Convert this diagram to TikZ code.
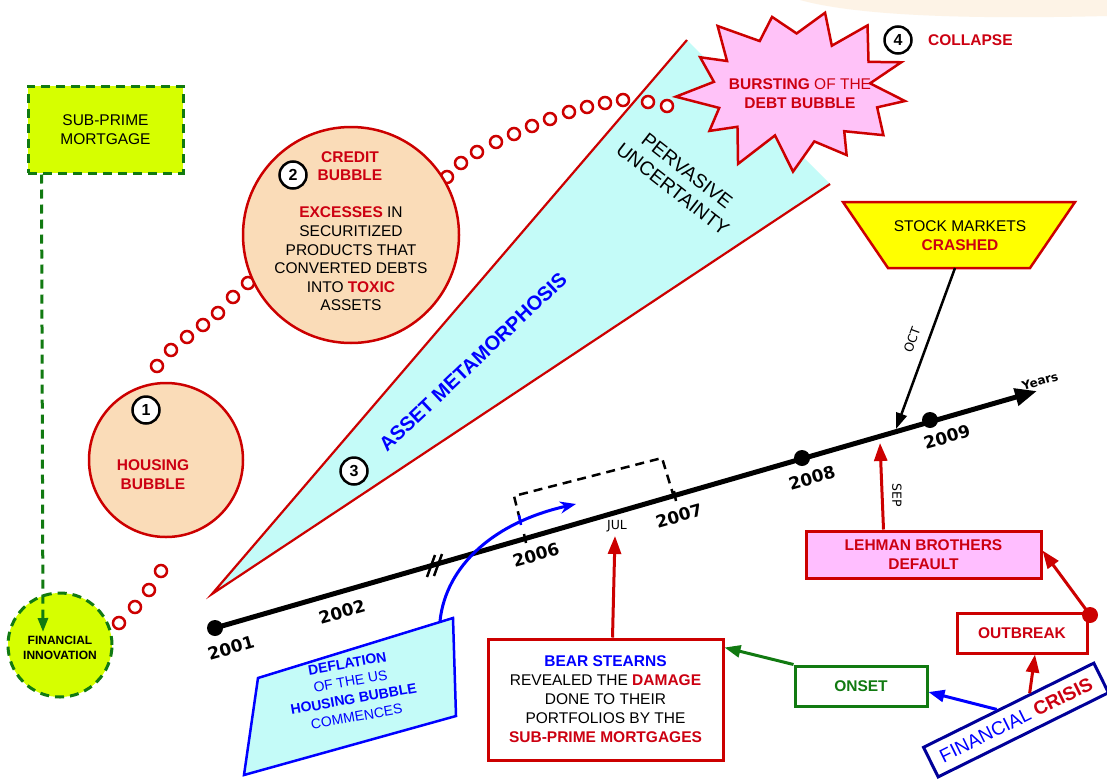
\documentclass[tikz,border=0pt]{standalone}
\usepackage{fontspec}
\setmainfont{Liberation Sans}
\newfontfamily\dejavu{DejaVu Sans}
\usetikzlibrary{arrows.meta,calc}
\definecolor{cred}{HTML}{CC0000}
\definecolor{tred}{HTML}{CC0011}
\definecolor{cgreen}{HTML}{117A11}
\definecolor{lime}{HTML}{D6FF00}
\definecolor{peach}{HTML}{FADCB8}
\definecolor{cyanf}{HTML}{C4FBF8}
\definecolor{pinkb}{HTML}{FFC2F8}
\definecolor{pinkl}{HTML}{FFBEFF}
\definecolor{navy}{HTML}{000099}
\definecolor{tblue}{HTML}{0000FF}
\definecolor{yell}{HTML}{FFFF00}
\newcommand\msz{\fontsize{15.5pt}{18.8pt}\selectfont}
\tikzset{
 txt/.style={align=center,font=\msz,inner sep=0pt},
 numc/.style={circle,draw,line width=2.5pt,fill=white,minimum size=27pt,inner sep=0pt,font=\fontsize{16pt}{16pt}\selectfont\bfseries},
 bub/.style={circle,draw=cred,line width=2.5pt,fill=white,minimum size=12pt,inner sep=0pt},
 bigc/.style={circle,draw=cred,line width=2.5pt,fill=peach,inner sep=0pt},
 gdash/.style={draw=cgreen,line width=3pt,dash pattern=on 9pt off 6pt},
 rbox/.style={draw=cred,line width=3pt,fill=white,inner sep=0pt,align=center,font=\msz},
 yr/.style={font=\dejavu\fontsize{17pt}{17pt}\selectfont\bfseries,rotate=16,inner sep=0pt},
 small/.style={font=\dejavu\fontsize{12.5pt}{12.5pt}\selectfont,inner sep=0pt},
 dot/.style={circle,fill=black,minimum size=16pt,inner sep=0pt},
 rarr/.style={draw=cred,line width=3pt,-{Triangle[length=18pt,width=13pt]}},
}
\begin{document}
\begin{tikzpicture}[x=1pt,y=-1pt]
\useasboundingbox[fill=white] (0,0) rectangle (1107,779);
% faint peach at top right
\fill[peach!35] (800,0) .. controls (850,14) and (950,20) .. (1107,16) -- (1107,0) -- cycle;

% wedge
\coordinate (wA) at (212,594);
\coordinate (wB) at (687,40);
\coordinate (wC) at (830,184);
\fill[cyanf] (wA) -- (wB) -- (wC) -- cycle;
\draw[cred,line width=2.2pt] (wB) -- (wA) -- (wC);
\node[txt,font=\fontsize{20pt}{20pt}\selectfont\bfseries,text=tblue,rotate=43.5] (asset) at (473,362) {ASSET METAMORPHOSIS};
\node[txt,font=\fontsize{19.5pt}{23pt}\selectfont,rotate=-38] (perv) at (680,180) {PERVASIVE\\UNCERTAINTY};
\node[numc] (n3) at (354,471) {3};

% sub-prime and financial innovation
\node[gdash,fill=lime,minimum width=155pt,minimum height=87pt,align=center,font=\msz] (sub) at (105.5,129.5) {SUB-PRIME\\MORTGAGE};
\node[gdash,circle,fill=lime,minimum size=104pt,inner sep=0pt,align=center,font=\fontsize{12pt}{14.5pt}\selectfont\bfseries] (fi) at (60,645) {\\FINANCIAL\\INNOVATION};
\coordinate (fiT) at (43,632);
\draw[gdash,-{Triangle[length=14pt,width=10pt]}] ([xshift=15pt]sub.south west) -- (fiT);

% chains of small circles
\foreach \p in {(119,623),(135,607),(149,590),(161,571)} \node[bub] at \p {};
\foreach \p in {(157,366),(171,350),(187,337),(203,325),(218,313),(233,297),(248,283)} \node[bub] at \p {};
\foreach \p in {(447,177),(461,163),(477,152),(496,142),(514,134),(532,126),(550,119),(569,112),(587,107),(605,103),(623,100),(648,102),(667,106)} \node[bub] at \p {};

% housing bubble
\node[bigc,minimum size=154pt] (h1) at (166,460) {};
\node[numc] (n1) at (146,410) {1};
\node[txt,font=\fontsize{15.5pt}{19pt}\selectfont\bfseries,text=tred] (hb) at (153,475) {HOUSING\\BUBBLE};

% credit bubble
\node[bigc,minimum size=216pt] (c2) at (351,235) {};
\node[numc] (n2) at (293,175) {2};
\node[txt,font=\fontsize{15.5pt}{18pt}\selectfont\bfseries,text=tred] (cb) at (350,166) {CREDIT\\BUBBLE};
\node[txt,font=\fontsize{15.5pt}{18.6pt}\selectfont] (ct) at (351,259) {\textcolor{tred}{\bfseries EXCESSES} IN\\SECURITIZED\\PRODUCTS THAT\\CONVERTED DEBTS\\INTO \textcolor{tred}{\bfseries TOXIC}\\ASSETS};

% burst
\draw[cred,line width=2.5pt,fill=pinkb,line join=miter] plot[samples at={0,...,25}]
 ({795+ifthenelse(mod(\x,2)==0,111,82)*(1+0.08*sin(\x*97))*cos(\x*360/26+8)},
  {89+ifthenelse(mod(\x,2)==0,80,52)*(1+0.08*cos(\x*131))*sin(\x*360/26+8)}) -- cycle;
\node[txt,text=tred] (burst) at (800,94) {\bfseries BURSTING \mdseries OF THE\\\bfseries DEBT BUBBLE};
\node[numc] (n4) at (898,40) {4};
\node[txt,font=\fontsize{15.5pt}{16pt}\selectfont\bfseries,text=tred,anchor=west] (col) at (928,40) {COLLAPSE};

% stock markets
\filldraw[draw=cred,fill=yell,line width=2.5pt] (843,202) -- (1075,202) -- (1030,268) -- (888,268) -- cycle;
\node[txt,font=\fontsize{15.5pt}{19pt}\selectfont] (stock) at (960,236) {STOCK MARKETS\\\textcolor{tred}{\bfseries CRASHED}};
\coordinate (stockB) at (955,268);

% timeline
\node[dot] (y2001) at (215,628) {};
\node[dot] (y2008) at (802,458) {};
\node[dot] (y2009) at (930,420) {};
\coordinate (yend) at (1037,391);
\draw[line width=5pt,-{Triangle[length=22pt,width=17pt]}] (y2001.center) -- (yend);
\node[font=\dejavu\fontsize{12pt}{12pt}\selectfont\bfseries,rotate=16,inner sep=0pt] (years) at (1040,381) {Years};
\draw[line width=2.5pt] (427,577) -- (435,555) (434,576) -- (442,554);
\draw[line width=2.5pt] (524,534) -- (526,543) (674,491) -- (676,501);
\node[yr] at (231,648) {2001};
\node[yr] at (342,612) {2002};
\node[yr] at (536,555) {2006};
\node[yr] at (679,516) {2007};
\node[yr] at (812,478) {2008};
\node[yr] at (947,437) {2009};

% dashed window
\draw[line width=2.5pt,dash pattern=on 9pt off 6pt] (520,520) -- (514,496) -- (662,458) -- (673,494);

% deflation box
\filldraw[draw=tblue,fill=cyanf,line width=2.5pt] (258,678) -- (453,618) -- (456,716) -- (244,775) -- cycle;
\node[txt,font=\fontsize{14pt}{18pt}\selectfont,text=tblue,rotate=10] (defl) at (352,690) {\bfseries DEFLATION\\OF THE US\\\bfseries HOUSING BUBBLE\\COMMENCES};
\coordinate (deflT) at (440,621);
\coordinate (blueT) at (576,504);
\draw[tblue,line width=3pt,-{Stealth[length=16pt,width=12pt]}] (deflT) .. controls (446,565) and (495,522) .. (blueT);
\draw[tblue,line width=2.5pt] (519,515) -- (521,525);

% bear stearns
\node[rbox,minimum width=235pt,minimum height=121pt,font=\fontsize{15.5pt}{19pt}\selectfont] (bear) at (605.5,699.5) {\textcolor{tblue}{\bfseries BEAR STEARNS}\\REVEALED THE \textcolor{tred}{\bfseries DAMAGE}\\DONE TO THEIR\\PORTFOLIOS BY THE\\\textcolor{tred}{\bfseries SUB-PRIME MORTGAGES}};
\coordinate (julT) at (615,536);
\draw[rarr] ([xshift=7pt]bear.north) -- (julT);
\node[small] (jul) at (617,526) {JUL};

% lehman
\node[rbox,fill=pinkl,minimum width=235pt,minimum height=47pt,text=tred,font=\fontsize{15.5pt}{19pt}\selectfont\bfseries] (leh) at (923.5,554.5) {LEHMAN BROTHERS\\DEFAULT};
\coordinate (sepT) at (880,443);
\draw[rarr] ([xshift=-40pt]leh.north) -- (sepT);
\node[small,rotate=-90] (sep) at (897,495) {SEP};

% stock arrow
\coordinate (octT) at (896,429);
\draw[line width=2.5pt,-{Triangle[length=16pt,width=11pt]}] (stockB) -- (octT);
\node[small,rotate=70] (oct) at (912,340) {OCT};

% outbreak, onset, crisis
\node[rbox,minimum width=130pt,minimum height=40pt,text=tred,font=\fontsize{15.5pt}{19pt}\selectfont\bfseries] (outb) at (1022,633) {OUTBREAK};
\node[circle,fill=cred,minimum size=16pt,inner sep=0pt] (odot) at (1090,615) {};
\draw[rarr] (odot.center) -- ([yshift=4pt]leh.east);
\node[draw=cgreen,line width=3pt,fill=white,minimum width=132pt,minimum height=40pt,text=cgreen,font=\fontsize{15.5pt}{19pt}\selectfont\bfseries] (onset) at (861,686) {ONSET};
\draw[draw=cgreen,line width=3pt,-{Triangle[length=16pt,width=12pt]}] (onset.north west) -- ([yshift=-10pt]bear.north east);
\node[draw=navy,line width=3pt,fill=white,rotate=26.3,minimum width=190pt,minimum height=33pt,inner sep=0pt,font=\fontsize{19pt}{19pt}\selectfont] (crisis) at (1016,720) {\textcolor{tblue}{FINANCIAL} \textcolor{tred}{\bfseries CRISIS}};
\draw[tblue,line width=3pt,-{Triangle[length=16pt,width=12pt]}] ($(crisis.north)!0.13!(crisis.north west)$) -- ([yshift=-6pt]onset.east);
\draw[rarr] ($(crisis.north)!0.25!(crisis.north east)$) -- ([xshift=13pt]outb.south);
\end{tikzpicture}
\end{document}
